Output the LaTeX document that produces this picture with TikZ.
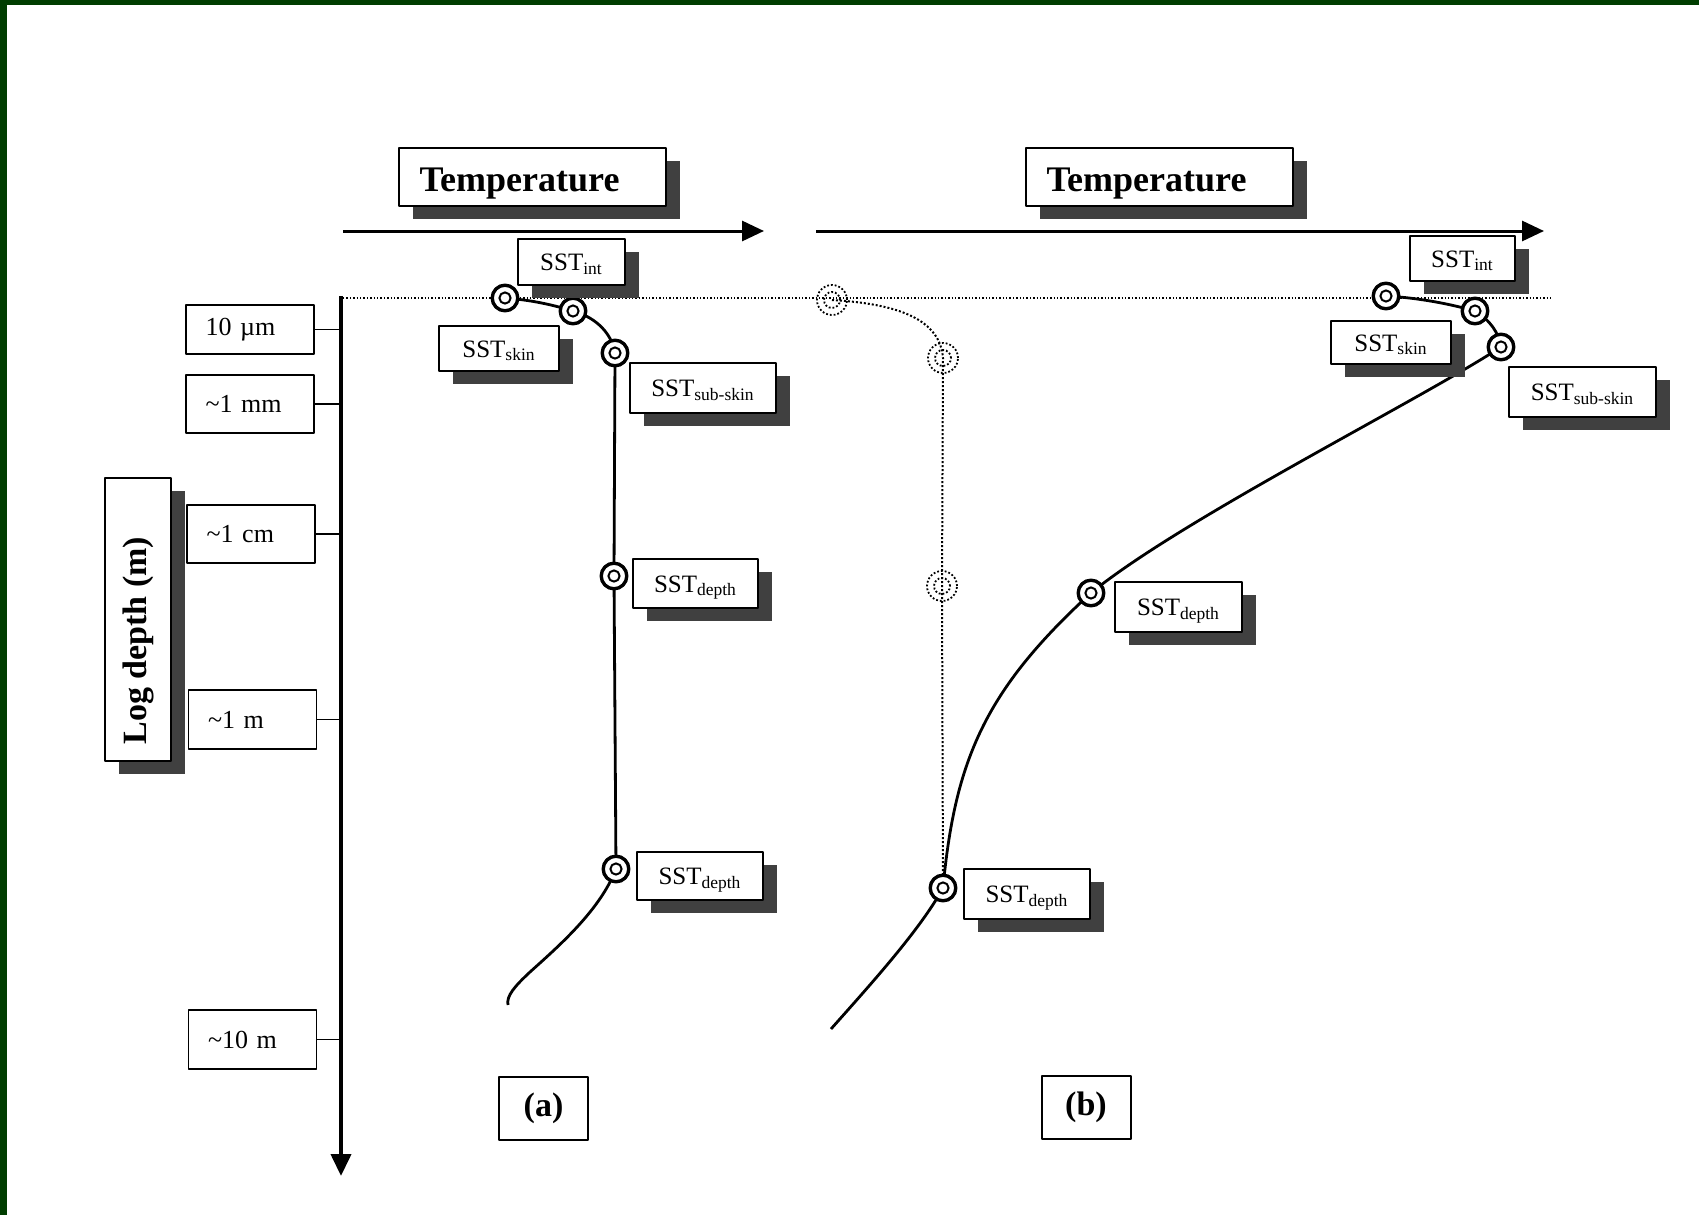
\documentclass[tikz,border=0pt]{standalone}
\usepackage{graphicx}
\usepackage{fontspec}
\setmainfont{Liberation Serif}
\usetikzlibrary{arrows.meta,shadows}
\pgfdeclarelayer{background}
\pgfsetlayers{background,main}

\definecolor{framegreen}{RGB}{0,61,0}
\definecolor{shadowgray}{gray}{0.25}

\tikzset{
  shadowbox/.style={draw, line width=0.8pt, fill=white, inner sep=0pt,
    drop shadow={shadow xshift=7pt, shadow yshift=-6.5pt, fill=shadowgray, opacity=1}},
  tempbox/.style={shadowbox, minimum height=29pt, text width=113pt, inner xsep=10.25pt,
    text height=18pt, text depth=4pt, align=left, font=\fontsize{18}{20}\selectfont\bfseries},
  sstbox/.style 2 args={shadowbox, minimum width=#1, minimum height=#2,
    text height=10.5pt, text depth=2pt, font=\fontsize{12.5}{14}\selectfont},
  depthbox/.style={draw, line width=0.8pt, fill=white, minimum height=#1, text width=44.5pt,
    inner xsep=9.75pt, inner ysep=0pt, align=left, font=\fontsize{13}{15}\selectfont},
  panelbox/.style={draw, line width=1pt, fill=white, minimum width=44.5pt, minimum height=31.5pt,
    font=\fontsize{17}{19}\selectfont\bfseries},
  ringpt/.style={circle, draw, line width=1.7pt, fill=white, minimum size=12.8pt, inner sep=0pt,
    path picture={\draw[line width=1pt] (path picture bounding box.center) circle (2.8pt);}},
  ghostpt/.style={circle, draw, densely dotted, line width=0.9pt, minimum size=15pt, inner sep=0pt,
    path picture={\draw[densely dotted, line width=0.9pt] (path picture bounding box.center) circle (4pt);}},
  profile/.style={line width=1.4pt},
  ghostline/.style={densely dotted, line width=1pt},
  surface/.style={densely dotted, line width=0.7pt},
  tickline/.style={line width=0.6pt},
}

\begin{document}
\begin{tikzpicture}[x=0.5pt,y=-0.5pt,>={Triangle[length=11pt,width=10pt]},line join=bevel]
\useasboundingbox (0,0) rectangle (1699,1215);

% Frame
\fill[framegreen] (0,0) rectangle (1699,5);
\fill[framegreen] (0,0) rectangle (7,1215);

% Axes
\coordinate (tempa0) at (343,231);
\coordinate (tempa1) at (764,231);
\coordinate (tempb0) at (816,231);
\coordinate (tempb1) at (1544,231);
\coordinate (axtop) at (341,296);
\coordinate (axbot) at (341,1176);
\coordinate (surf0) at (343,298);
\coordinate (surf1) at (1552,298);
\draw[->, line width=1.5pt] (tempa0) -- (tempa1);
\draw[->, line width=1.5pt] (tempb0) -- (tempb1);
\draw[->, line width=2pt] (axtop) -- (axbot);

% Node: titles
\node[tempbox] (tempa) at (532.5,177) {Temperature};
\node[tempbox] (tempb) at (1159.5,177) {Temperature};
\node[shadowbox, minimum width=33pt, minimum height=141.5pt, font=\fontsize{17}{19}\selectfont\bfseries]
  (logdepth) at (138,619.5) {\rotatebox{90}{\makebox[125pt][l]{Log depth (m)}}};

% Node: depth ticks
\node[depthbox=24.5pt] (t10um) at (250,329.5) {10 µm};
\node[depthbox=29pt] (t1mm) at (250,404) {\textasciitilde 1 mm};
\node[depthbox=29pt] (t1cm) at (251,534) {\textasciitilde 1 cm};
\node[depthbox=29.5pt] (t1m) at (252.5,719.5) {\textasciitilde 1 m};
\node[depthbox=29.5pt] (t10m) at (252.5,1039.5) {\textasciitilde 10 m};
\foreach \t in {t10um,t1mm,t1cm,t1m,t10m}
  \draw[tickline] (\t.east) -- (\t.east -| axtop);

% Node: profile (a)
\node[ringpt] (ai) at (505,298) {};
\node[ringpt] (as) at (573,311) {};
\node[ringpt] (ass) at (615,353) {};
\node[ringpt] (ad1) at (614,576) {};
\node[ringpt] (ad2) at (616,869) {};
\coordinate (aend) at (508,1005);

% Node: profile (b)
\node[ringpt] (bi) at (1386,296) {};
\node[ringpt] (bs) at (1475,311) {};
\node[ringpt] (bss) at (1501,347) {};
\node[ringpt] (bd1) at (1091,593) {};
\node[ringpt] (bd2) at (943,888) {};
\coordinate (bend) at (831,1029);

% Node: dotted profile
\node[ghostpt] (g1) at (832,300) {};
\node[ghostpt] (g2) at (943,358) {};
\node[ghostpt] (g3) at (942,586) {};

\begin{pgfonlayer}{background}
% Edge: surface
\draw[surface] (surf0) -- (surf1);
% Edge: ai -> aend
\draw[profile] (ai.center) .. controls (530,300) and (550,304) .. (as.center)
  .. controls (598,318) and (612,335) .. (ass.center)
  -- (ad1.center) -- (ad2.center) .. controls (600,910) and (560,945) .. (530,972)
  .. controls (515,986) and (506,996) .. (aend);
% Edge: bi -> bend
\draw[profile] (bi.center) .. controls (1420,298) and (1450,304) .. (bs.center)
  .. controls (1490,320) and (1499,333) .. (bss.center)
  .. controls (1420,400) and (1180,520) .. (bd1.center)
  .. controls (985,690) and (955,760) .. (bd2.center)
  .. controls (920,930) and (870,985) .. (bend);
% Edge: g1 -> bd2
\draw[ghostline] (g1.center) .. controls (900,304) and (940,320) .. (g2.center)
  -- (g3.center) -- (bd2.center);
\end{pgfonlayer}

% Node: labels (a)
\node[sstbox={53.5pt}{23pt}] (lai) at (571.5,262) {SST\textsubscript{int}};
\node[sstbox={60pt}{22.5pt}] (las) at (499,348.5) {SST\textsubscript{skin}};
\node[sstbox={73pt}{25pt}] (lass) at (703,388) {SST\textsubscript{sub-skin}};
\node[sstbox={62.5pt}{24.5pt}] (lad1) at (695.5,583.5) {SST\textsubscript{depth}};
\node[sstbox={63pt}{24pt}] (lad2) at (700,876) {SST\textsubscript{depth}};

% Node: labels (b)
\node[sstbox={52.5pt}{22.5pt}] (lbi) at (1462.5,258.5) {SST\textsubscript{int}};
\node[sstbox={60pt}{21.5pt}] (lbs) at (1391,342.5) {SST\textsubscript{skin}};
\node[sstbox={73.5pt}{25pt}] (lbss) at (1582.5,392) {SST\textsubscript{sub-skin}};
\node[sstbox={63.5pt}{25pt}] (lbd1) at (1178.5,607) {SST\textsubscript{depth}};
\node[sstbox={63pt}{25pt}] (lbd2) at (1027,894) {SST\textsubscript{depth}};

% Node: panels
\node[panelbox] (pa) at (543.5,1108.5) {(a)};
\node[panelbox] (pb) at (1086,1107) {(b)};
\end{tikzpicture}
\end{document}
